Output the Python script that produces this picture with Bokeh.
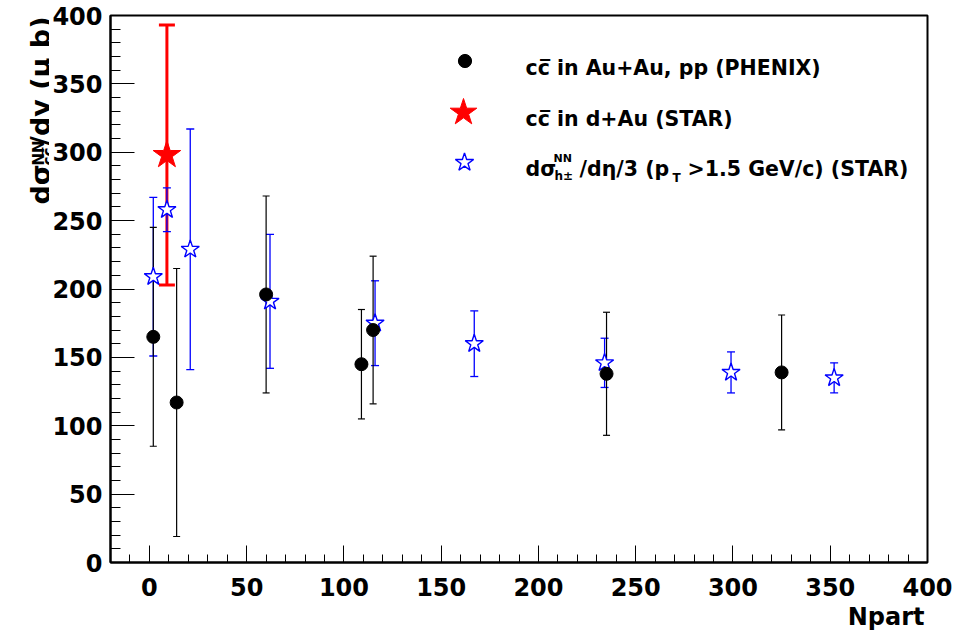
import math
from bokeh.plotting import figure
from bokeh.layouts import row
from bokeh.core.properties import value
from bokeh.models import (ColumnDataSource, Whisker, TeeHead, Range1d,
                          SingleIntervalTicker, Label, Legend, LegendItem, Title)
from bokeh.embed import file_html
from bokeh.resources import INLINE

# ---------------- data ----------------
phenix_npart = [2, 14, 60, 109, 115, 235, 325]
phenix_val = [165, 117, 196, 145, 170, 138, 139]
phenix_err = [80, 98, 72, 40, 54, 45, 42]

star_h_npart = [2, 9, 21, 62, 116, 167, 234, 299, 352]
star_h_val = [209, 258, 229, 191, 175, 160, 146, 139, 135]
star_h_err = [58, 16, 88, 49, 31, 24, 18, 15, 11]

dau_npart = [9]
dau_val = [298]
dau_err = [95]

x_tick_labels = [0, 50, 100, 150, 200, 250, 300, 350, 400]
y_tick_labels = [0, 50, 100, 150, 200, 250, 300, 350, 400]

FONT = "DejaVu Sans"
W, H = 956, 633
FL, FT, FR, FB = 108, 15, 927, 562   # frame edges on the page
WL = 49                               # width of the strip holding the y title

def src(xs, ys, es):
    return ColumnDataSource(dict(x=xs, y=ys,
                                 lo=[v - e for v, e in zip(ys, es)],
                                 hi=[v + e for v, e in zip(ys, es)]))

ph_src = src(phenix_npart, phenix_val, phenix_err)
sh_src = src(star_h_npart, star_h_val, star_h_err)
da_src = src(dau_npart, dau_val, dau_err)

p = figure(width=W - WL, height=H, x_range=Range1d(-20, 400), y_range=Range1d(0, 400),
           output_backend="svg", toolbar_location=None,
           min_border_left=FL - WL, min_border_right=W - FR, min_border_top=FT,
           min_border_bottom=H - FB)
p.grid.visible = False
p.outline_line_color = "black"
p.outline_line_width = 2
p.background_fill_color = "white"
p.border_fill_color = "white"

for ax, tin, tmin in ((p.xaxis[0], 17, 8), (p.yaxis[0], 24, 10)):
    ax.ticker = SingleIntervalTicker(interval=50, num_minor_ticks=5)
    ax.major_tick_in = tin
    ax.major_tick_out = 0
    ax.minor_tick_in = tmin
    ax.minor_tick_out = 0
    ax.axis_line_width = 2
    ax.major_tick_line_width = 1
    ax.minor_tick_line_width = 1
    ax.major_label_text_font = FONT
    ax.major_label_text_font_style = "bold"
    ax.major_label_text_font_size = "24px"
    ax.major_label_text_color = "black"
p.xaxis[0].major_label_standoff = 15
p.yaxis[0].major_label_standoff = 8
p.xaxis[0].major_label_overrides = {v: str(v) for v in x_tick_labels}
p.yaxis[0].major_label_overrides = {v: str(v) for v in y_tick_labels}

# error bars and markers
p.add_layout(Whisker(source=da_src, base="x", lower="lo", upper="hi", dimension="height",
                     line_color="red", line_width=3,
                     upper_head=TeeHead(size=16, line_color="red", line_width=3),
                     lower_head=TeeHead(size=16, line_color="red", line_width=3)))
p.add_layout(Whisker(source=sh_src, base="x", lower="lo", upper="hi", dimension="height",
                     line_color="blue", line_width=1.3,
                     upper_head=TeeHead(size=8, line_color="blue", line_width=1.3),
                     lower_head=TeeHead(size=8, line_color="blue", line_width=1.3)))
r_sh = p.scatter("x", "y", source=sh_src, marker="star", size=19, fill_color="white",
                 line_color="blue", line_width=1.4)
p.add_layout(Whisker(source=ph_src, base="x", lower="lo", upper="hi", dimension="height",
                     line_color="black", line_width=1.2,
                     upper_head=TeeHead(size=7, line_color="black", line_width=1.2),
                     lower_head=TeeHead(size=7, line_color="black", line_width=1.2)))
r_ph = p.scatter("x", "y", source=ph_src, marker="circle", size=13, fill_color="black",
                 line_color="black")
r_da = p.scatter("x", "y", source=da_src, marker="star", size=29, fill_color="red",
                 line_color="red")

# legend markers (one small legend per entry, positioned in screen px)
def legend_marker(renderer, cx, cy, g):
    lg = Legend(items=[LegendItem(label=" ", renderers=[renderer])],
                location=(cx - FL - g / 2, FB - cy - g / 2),
                glyph_width=g, glyph_height=g, padding=0, margin=0, spacing=0,
                label_standoff=0, label_width=0, label_height=0,
                label_text_font_size="1px", border_line_color=None,
                background_fill_alpha=0)
    p.add_layout(lg, "center")

legend_marker(r_ph, 462, 60, 33)
legend_marker(r_da, 461, 112, 70)
legend_marker(r_sh, 462, 162, 48)

def flab(text, sx, sy, size, align="left"):
    p.add_layout(Label(x=sx - FL, y=FB - sy, x_units="screen", y_units="screen",
                       text=text, text_font=FONT, text_font_style="bold",
                       text_font_size=f"{size}px", text_align=align,
                       text_baseline="alphabetic", text_color="black"))

CCBAR = "cc\u0305"
# legend texts
flab(CCBAR + " in Au+Au, pp (PHENIX)", 523, 67, 20.5)
flab(CCBAR + " in d+Au (STAR)", 523, 118, 20.5)
flab("d\u03c3", 523, 168, 20.5)
flab("NN", 551, 158, 11)
flab("h\u00b1", 552, 175, 12)
flab("/d\u03b7/3 (p", 577, 168, 20.5)
flab("T", 670, 177, 12)
flab(">1.5 GeV/c) (STAR)", 685, 168, 20.5)

# x axis title
p.add_layout(Title(text="Npart", align="right", text_font=FONT, text_font_style="bold",
                   text_font_size="24px", text_color="black", standoff=4, offset=3),
             "below")

# y axis title in a narrow strip on the left; its frame lines up with the main
# frame vertically, so its y range is set to page pixels between FT and FB
q = figure(width=WL, height=H, output_backend="svg", toolbar_location=None,
           x_range=Range1d(0, WL), y_range=Range1d(FB, FT),
           x_axis_location=None, y_axis_location=None,
           min_border=0, min_border_left=0, min_border_right=0,
           min_border_top=FT, min_border_bottom=H - FB)
q.grid.visible = False
q.outline_line_color = None
q.background_fill_color = "white"
q.border_fill_color = "white"

A = math.pi / 2
def ytext(texts, xs, ys, size, align):
    q.text(x=xs, y=ys, text=texts, angle=A, text_align=align, text_baseline="alphabetic",
           text_font=value(FONT), text_font_style="bold", text_font_size=f"{size}px",
           text_color="black")

ytext(["d\u03c3"], [40], [204], 27, "left")
ytext(["NN"], [38], [165], 15, "left")
ytext([CCBAR], [48], [165], 15, "left")
ytext(["/dy (\u03bc b)"], [40], [16], 27, "right")

layout = row(q, p)
open("out.html", "w").write(file_html(layout, INLINE))
